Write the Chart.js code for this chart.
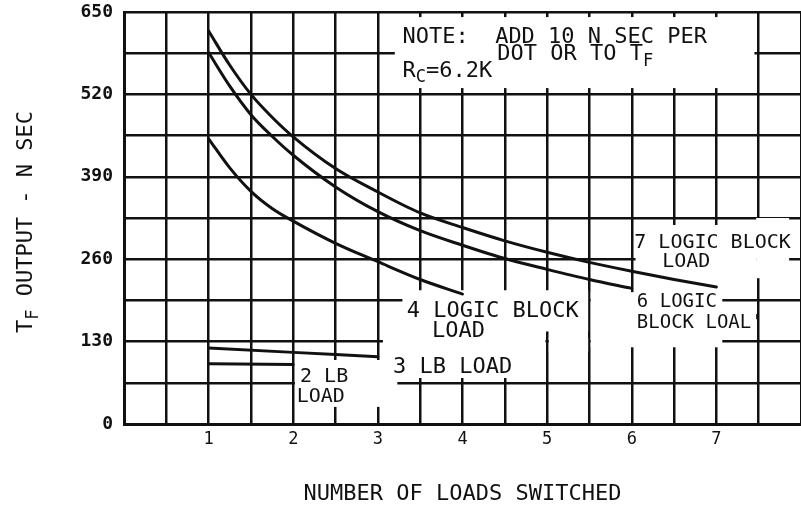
<!DOCTYPE html>
<html>
<head>
<meta charset="utf-8">
<script src="https://cdn.jsdelivr.net/npm/chart.js@4.4.1/dist/chart.umd.min.js"></script>
<style>
  html, body { margin: 0; padding: 0; background: #ffffff; }
  #wrap { width: 801px; height: 507px; position: relative; }
</style>
</head>
<body>
<div id="wrap"><canvas id="c"></canvas></div>
<script>
// ---- data ----
const x7 = [1, 1.25, 1.5, 1.75, 2, 2.5, 3, 3.5, 4, 4.5, 5, 5.5, 6, 6.5, 7];
const load7 = [620, 566, 520, 484, 453, 403, 366, 333, 310, 289, 271, 255, 241, 228, 216];
const x6 = [1, 1.25, 1.5, 1.75, 2, 2.5, 3, 3.5, 4, 4.5, 5, 5.5, 6];
const load6 = [586, 533, 488, 454, 424, 374, 335, 305, 282, 261, 244, 228, 214];
const x4 = [1, 1.25, 1.5, 1.75, 2, 2.5, 3, 3.5, 4];
const load4 = [450, 404, 367, 340, 320, 285, 256, 228, 205];
const x3 = [1, 2, 3];
const load3 = [120, 113, 106];
const x2 = [1, 2];
const load2 = [95, 94];
const yTickLabels = [0, 130, 260, 390, 520, 650];
const xTickLabels = [1, 2, 3, 4, 5, 6, 7];

// ---- layout / annotation config (data units) ----
const blankAreas = [
  { x0: 3.20, x1: 7.45, y0: 642, y1: 530 },    // note box
  { x0: 7.47, x1: 7.86, y0: 325, y1: 230 },    // 7 LB label right part
  { x0: 6.045, x1: 7.47, y0: 314, y1: 206 },   // 7 LB label
  { x0: 5.515, x1: 7.07, y0: 208, y1: 121 },   // 6 LB label
  { x0: 3.29, x1: 5.485, y0: 211, y1: 146 },   // 4 LB label
  { x0: 3.06, x1: 4.98, y0: 149, y1: 72.6 },   // 3 LB label
  { x0: 5.02, x1: 5.485, y0: 136, y1: 114 },
  { x0: 2.02, x1: 3.23, y0: 101, y1: 27 }      // 2 LB label
];

const FONT = '"DejaVu Sans Mono", "Liberation Mono", monospace';
const notes = [
  { x: 3.29, y: 601, size: 22, runs: [{ t: 'NOTE:  ADD 10 N SEC PER' }] },
  { x: 4.41, y: 574, size: 22, runs: [{ t: 'DOT OR TO T' }, { t: 'F', sub: true }] },
  { x: 3.29, y: 548, size: 22, runs: [{ t: 'R' }, { t: 'C', sub: true }, { t: '=6.2K' }] },
  { x: 6.03, y: 278, size: 20, runs: [{ t: '7 LOGIC BLOCK' }] },
  { x: 6.36, y: 248, size: 20, runs: [{ t: 'LOAD' }] },
  { x: 6.06, y: 184, size: 19, runs: [{ t: '6 LOGIC' }] },
  { x: 6.06, y: 152, size: 19, runs: [{ t: "BLOCK LOAL'" }] },
  { x: 3.34, y: 169, size: 22, runs: [{ t: '4 LOGIC BLOCK' }] },
  { x: 3.64, y: 138, size: 22, runs: [{ t: 'LOAD' }] },
  { x: 3.18, y: 81, size: 22, runs: [{ t: '3 LB LOAD' }] },
  { x: 2.08, y: 66, size: 20, runs: [{ t: '2 LB' }] },
  { x: 2.04, y: 35, size: 20, runs: [{ t: 'LOAD' }] }
];

function drawRuns(ctx, runs, size, x, y) {
  let cx = x;
  runs.forEach(r => {
    const s = r.sub ? Math.round(size * 0.75) : size;
    ctx.font = s + 'px ' + FONT;
    ctx.fillText(r.t, cx, r.sub ? y + size * 0.25 : y);
    cx += ctx.measureText(r.t).width;
  });
}
function runsWidth(ctx, runs, size) {
  let w = 0;
  runs.forEach(r => {
    const s = r.sub ? Math.round(size * 0.75) : size;
    ctx.font = s + 'px ' + FONT;
    w += ctx.measureText(r.t).width;
  });
  return w;
}

const annotPlugin = {
  id: 'annot',
  beforeDatasetsDraw(chart) {
    const { ctx, scales: { x, y } } = chart;
    ctx.save();
    ctx.fillStyle = '#ffffff';
    blankAreas.forEach(b => {
      const px0 = x.getPixelForValue(b.x0), px1 = x.getPixelForValue(b.x1);
      const py0 = y.getPixelForValue(b.y0), py1 = y.getPixelForValue(b.y1);
      ctx.fillRect(Math.min(px0, px1), Math.min(py0, py1), Math.abs(px1 - px0), Math.abs(py1 - py0));
    });
    ctx.restore();
  },
  afterDatasetsDraw(chart) {
    const { ctx, scales: { x, y } } = chart;
    ctx.save();
    ctx.fillStyle = '#111111';
    ctx.textAlign = 'left';
    ctx.textBaseline = 'alphabetic';
    notes.forEach(n => drawRuns(ctx, n.runs, n.size, x.getPixelForValue(n.x), y.getPixelForValue(n.y)));
    // y-axis title with subscript
    const runs = [{ t: 'T' }, { t: 'F', sub: true }, { t: ' OUTPUT - N SEC' }];
    const w = runsWidth(ctx, runs, 22);
    const cy = (chart.chartArea.top + chart.chartArea.bottom) / 2 + 4;
    ctx.translate(32, cy);
    ctx.rotate(-Math.PI / 2);
    drawRuns(ctx, runs, 22, -w / 2, 0);
    ctx.restore();
  }
};

function pts(xs, ys) { return ys.map((v, i) => ({ x: xs[i], y: v })); }

const lineStyle = {
  borderColor: '#111111', borderWidth: 3, pointRadius: 0, fill: false,
  cubicInterpolationMode: 'monotone', borderCapStyle: 'round', borderJoinStyle: 'round'
};

new Chart(document.getElementById('c'), {
  type: 'line',
  data: {
    datasets: [
      Object.assign({ label: '7 LOGIC BLOCK LOAD', data: pts(x7, load7) }, lineStyle),
      Object.assign({ label: '6 LOGIC BLOCK LOAD', data: pts(x6, load6) }, lineStyle),
      Object.assign({ label: '4 LOGIC BLOCK LOAD', data: pts(x4, load4) }, lineStyle),
      Object.assign({ label: '3 LB LOAD', data: pts(x3, load3) }, lineStyle),
      Object.assign({ label: '2 LB LOAD', data: pts(x2, load2) }, lineStyle)
    ]
  },
  options: {
    responsive: true,
    maintainAspectRatio: false,
    devicePixelRatio: 1,
    animation: false,
    layout: { padding: { top: 12, right: 0, bottom: 0, left: 0 } },
    plugins: { legend: { display: false }, tooltip: { enabled: false } },
    scales: {
      x: {
        type: 'linear', min: 0, max: 8,
        afterFit(s) { s.height = 83; s.paddingLeft = 0; s.paddingRight = 0; },
        ticks: {
          stepSize: 0.5, autoSkip: false, maxRotation: 0, padding: 5,
          color: '#111111', font: { family: FONT, size: 17 },
          callback: v => (xTickLabels.includes(v) ? String(v) : '')
        },
        grid: { color: '#111111', lineWidth: 2.5, drawTicks: false },
        border: { color: '#111111', width: 3 },
        title: {
          display: true, text: 'NUMBER OF LOADS SWITCHED', color: '#111111',
          font: { family: FONT, size: 22 }, padding: { top: 31, bottom: 0 }
        }
      },
      y: {
        type: 'linear', min: 0, max: 650,
        afterFit(s) { s.width = 124; s.paddingTop = 0; s.paddingBottom = 0; },
        ticks: {
          stepSize: 65, autoSkip: false, padding: 11,
          color: '#111111', font: { family: FONT, size: 18, weight: 'bold' },
          callback: v => (yTickLabels.includes(v) ? String(v) : '')
        },
        grid: { color: '#111111', lineWidth: 2.5, drawTicks: false },
        border: { color: '#111111', width: 3 }
      }
    }
  },
  plugins: [annotPlugin]
});
</script>
</body>
</html>
